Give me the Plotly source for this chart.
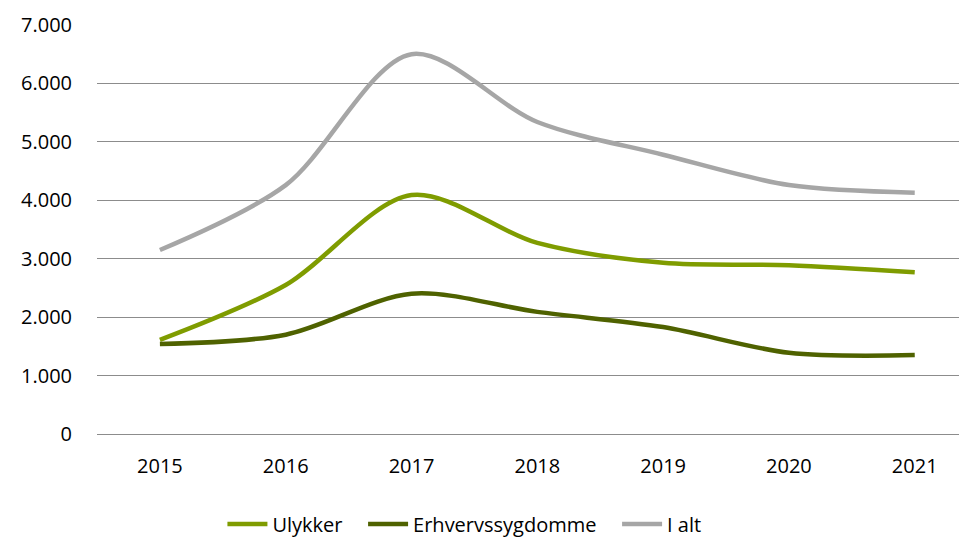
import plotly.graph_objects as go

years = ["2015", "2016", "2017", "2018", "2019", "2020", "2021"]
ulykker = [1610, 2550, 4090, 3270, 2930, 2890, 2770]
erhverv = [1540, 1700, 2400, 2090, 1830, 1390, 1350]
i_alt = [3150, 4260, 6500, 5340, 4780, 4260, 4130]

names = ["Ulykker", "Erhvervssygdomme", "I alt"]
colors = ["#7F9C00", "#4F6200", "#A6A6A6"]

fig = go.Figure()
for i, (name, vals, col) in enumerate(zip(names, [ulykker, erhverv, i_alt], colors)):
    label = name + ("\u00a0\u00a0\u00a0" if i < len(names) - 1 else "")
    fig.add_trace(go.Scatter(x=years, y=vals, name=label, mode="lines",
                             line=dict(color=col, width=4.5, shape="spline", smoothing=0.9)))

fig.update_layout(
    width=967, height=537,
    margin=dict(l=89, r=0, t=17, b=111, autoexpand=False),
    plot_bgcolor="white", paper_bgcolor="white",
    separators=",.",
    font=dict(family="Open Sans, sans-serif", size=20, color="#000000"),
    showlegend=True,
    legend=dict(orientation="h", xref="container", yref="container",
                x=0.472, xanchor="center", y=0.039, yanchor="middle",
                font=dict(size=20), itemwidth=40, traceorder="normal",
                tracegroupgap=0),
    xaxis=dict(type="category", range=[-0.5, 6.479], showgrid=False, showline=False,
               zeroline=False, ticks="", ticklabelstandoff=18),
    yaxis=dict(range=[0, 7000], dtick=1000, tickformat=",d", showgrid=True,
               gridcolor="#8C8C8C", gridwidth=1.4, zeroline=True, zerolinecolor="#8C8C8C",
               zerolinewidth=1.4, showline=False, ticks="", ticklabelstandoff=24),
)
fig.write_html("out.html")
